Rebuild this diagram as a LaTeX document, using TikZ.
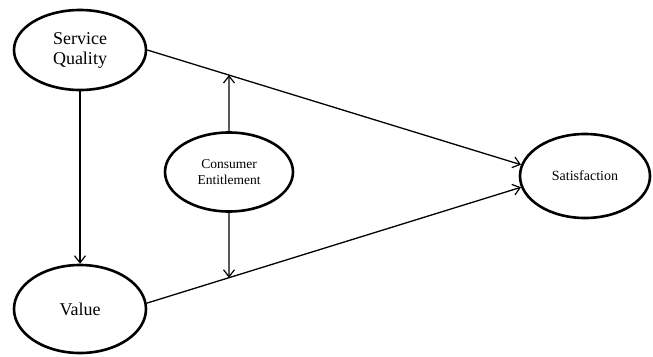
\documentclass[tikz,border=0pt]{standalone}
\usepackage{fontspec}
\setmainfont{Liberation Serif}
\usetikzlibrary{shapes.geometric,arrows.meta,intersections}
\begin{document}
\begin{tikzpicture}[x=1pt,y=-1pt,
  oval/.style={ellipse,draw,line width=2.6pt,inner sep=0pt,align=center},
  conn/.style={line width=1.3pt},
  arr/.style={conn,-{Straight Barb[length=7pt,width=11pt,line width=1.2pt]}}]
\useasboundingbox (0,0) rectangle (653,356);
\node[oval,minimum width=132pt,minimum height=80pt,font=\fontsize{18}{20}\selectfont] (sq) at (80,50) {Service\\Quality};
\node[oval,minimum width=132pt,minimum height=88pt,font=\fontsize{18}{20}\selectfont] (value) at (80,309) {Value};
\node[oval,minimum width=128pt,minimum height=79pt,font=\fontsize{13.5}{16}\selectfont] (ce) at (229,172) {Consumer\\Entitlement};
\node[oval,minimum width=130pt,minimum height=84pt,font=\fontsize{14}{16}\selectfont] (sat) at (585,176) {Satisfaction};
\draw[arr,name path=topline] (sq.east) -- (sat.170);
\draw[arr,name path=botline] (value.5) -- (sat.190);
\draw[arr] (sq.south) -- (value.north);
\path[name path=vline] (ce.center) ++(0,-250) -- ++(0,500);
\path[name intersections={of=topline and vline,by=u}];
\path[name intersections={of=botline and vline,by=d}];
\draw[arr] (ce.north) -- (u);
\draw[arr] (ce.south) -- (d);
\end{tikzpicture}
\end{document}
